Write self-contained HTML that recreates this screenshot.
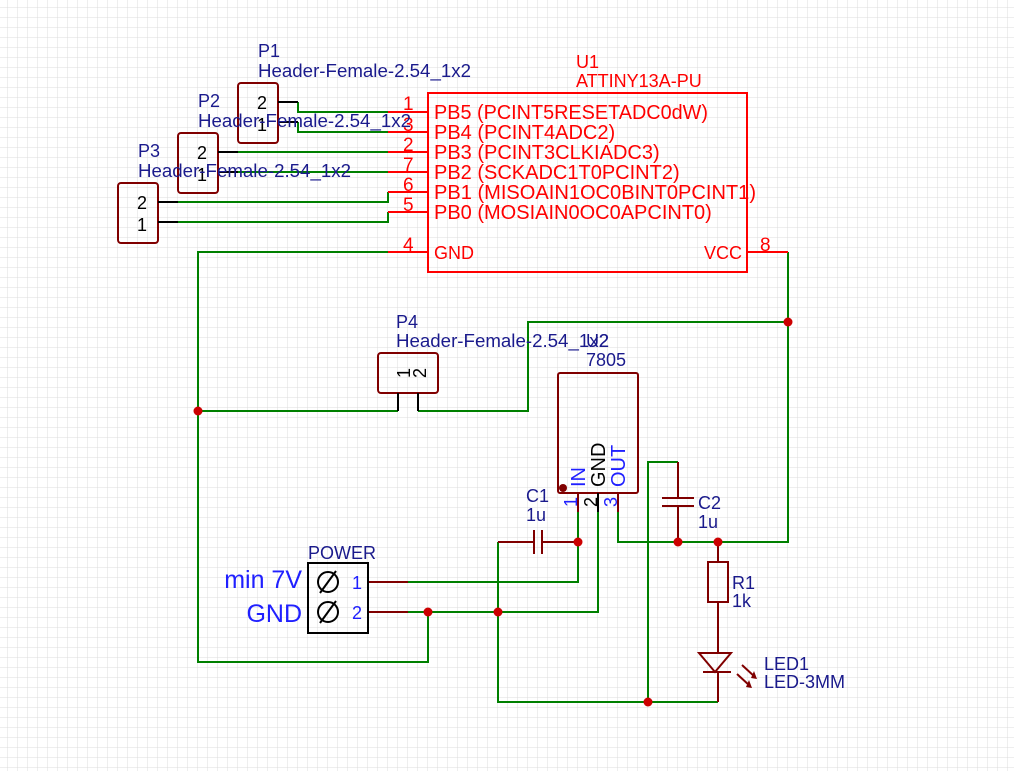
<!DOCTYPE html>
<html><head><meta charset="utf-8"><style>
html,body{margin:0;padding:0;background:#fff}
svg{display:block}
text{font-family:"Liberation Sans",sans-serif}
</style></head><body>
<svg width="1014" height="771" viewBox="0 0 1014 771" xmlns="http://www.w3.org/2000/svg">
<defs>
<pattern id="g" width="10" height="10" patternUnits="userSpaceOnUse" x="-2" y="-2">
<path d="M10 0V10M0 10H10" fill="none" stroke="#dcdcdc" stroke-width="1"/>
</pattern>
</defs>
<rect width="1014" height="771" fill="url(#g)"/>

<g fill="none" stroke="#008000" stroke-width="2">
<path d="M298 102V112H388"/>
<path d="M298 122V132H388"/>
<path d="M238 152H388"/>
<path d="M238 172H388"/>
<path d="M178 202H388V192"/>
<path d="M178 222H388V212"/>
<path d="M388 252H198V662H428V612"/>
<path d="M198 411H398"/>
<path d="M418 411H528V322H788"/>
<path d="M788 252V542H618V512"/>
<path d="M408 582H578V542"/>
<path d="M578 542V512"/>
<path d="M408 612H598V512"/>
<path d="M498 542V702H718"/>
<path d="M648 702V462H678"/>
<path d="M678 542H718"/>
</g>

<g stroke="#ff0000" stroke-width="2" fill="none">
<rect x="428" y="93" width="319" height="179"/>
<path d="M388 112H428M388 132H428M388 152H428M388 172H428M388 192H428M388 212H428M388 252H428M747 252H788"/>
</g>
<g fill="#ff0000" font-size="20">
<text x="576" y="68" font-size="18">U1</text>
<text x="576" y="87" font-size="18">ATTINY13A-PU</text>
<text x="434" y="119" textLength="274" lengthAdjust="spacingAndGlyphs">PB5 (PCINT5RESETADC0dW)</text>
<text x="434" y="139">PB4 (PCINT4ADC2)</text>
<text x="434" y="159">PB3 (PCINT3CLKIADC3)</text>
<text x="434" y="179">PB2 (SCKADC1T0PCINT2)</text>
<text x="434" y="199" textLength="322" lengthAdjust="spacingAndGlyphs">PB1 (MISOAIN1OC0BINT0PCINT1)</text>
<text x="434" y="219">PB0 (MOSIAIN0OC0APCINT0)</text>
<text x="434" y="259" font-size="18">GND</text>
<text x="742" y="259" text-anchor="end" font-size="18">VCC</text>
<g font-size="19">
<text x="403" y="110">1</text>
<text x="403" y="131">3</text>
<text x="403" y="151">2</text>
<text x="403" y="171">7</text>
<text x="403" y="191">6</text>
<text x="403" y="211">5</text>
<text x="403" y="251">4</text>
<text x="760" y="251">8</text>
</g>
</g>

<g stroke="#800000" stroke-width="2" fill="none">
<rect x="238" y="83" width="40" height="60" rx="3"/>
<rect x="178" y="133" width="40" height="60" rx="3"/>
<rect x="118" y="183" width="40" height="60" rx="3"/>
<rect x="378" y="353" width="60" height="40" rx="3"/>
</g>
<g stroke="#000" stroke-width="2">
<path d="M278 102H298M278 122H298M218 152H238M218 172H238M158 202H178M158 222H178M398 393V411M418 393V411"/>
</g>
<g fill="#000" font-size="18" text-anchor="middle">
<text x="262" y="109">2</text><text x="262" y="131">1</text>
<text x="202" y="159">2</text><text x="202" y="181">1</text>
<text x="142" y="209">2</text><text x="142" y="231">1</text>
<text transform="translate(404,373) rotate(-90)" y="6">1</text>
<text transform="translate(420,373) rotate(-90)" y="6">2</text>
</g>
<g fill="#1a1a8c" font-size="18">
<text x="258" y="57">P1</text>
<text x="258" y="77" textLength="213" lengthAdjust="spacingAndGlyphs">Header-Female-2.54_1x2</text>
<text x="198" y="107">P2</text>
<text x="198" y="127" textLength="213" lengthAdjust="spacingAndGlyphs">Header-Female-2.54_1x2</text>
<text x="138" y="157">P3</text>
<text x="138" y="177" textLength="213" lengthAdjust="spacingAndGlyphs">Header-Female-2.54_1x2</text>
<text x="396" y="328">P4</text>
<text x="396" y="347" textLength="213" lengthAdjust="spacingAndGlyphs">Header-Female-2.54_1x2</text>
<text x="586" y="347">U2</text>
<text x="586" y="366">7805</text>
<text x="526" y="502">C1</text>
<text x="526" y="521">1u</text>
<text x="698" y="509">C2</text>
<text x="698" y="528">1u</text>
<text x="732" y="589">R1</text>
<text x="732" y="607">1k</text>
<text x="764" y="670">LED1</text>
<text x="764" y="688">LED-3MM</text>
<text x="308" y="559">POWER</text>
</g>

<rect x="558" y="373" width="80" height="120" rx="2" fill="none" stroke="#800000" stroke-width="2"/>
<circle cx="563" cy="488" r="4" fill="#800000"/>
<path d="M578 493V512M618 493V512" stroke="#800000" stroke-width="2"/>
<path d="M598 493V512" stroke="#000" stroke-width="2"/>
<g font-size="20">
<text transform="translate(585,487) rotate(-90)" fill="#2020ff">IN</text>
<text transform="translate(605,487) rotate(-90)" fill="#000">GND</text>
<text transform="translate(625,487) rotate(-90)" fill="#2020ff">OUT</text>
<text transform="translate(577,507) rotate(-90)" fill="#2020ff" font-size="18">1</text>
<text transform="translate(597,507) rotate(-90)" fill="#000" font-size="18">2</text>
<text transform="translate(617,507) rotate(-90)" fill="#2020ff" font-size="18">3</text>
</g>

<g stroke="#800000" stroke-width="2" fill="none">
<path d="M498 542H534M534 530V554M542 530V554M542 542H578"/>
<path d="M678 462V498M662 498H694M662 506H694M678 506V542"/>
<path d="M718 542V562M718 602V652"/>
<rect x="708" y="562" width="20" height="40"/>
<path d="M699 653H731L715 672Z"/>
<path d="M703 672H731M718 672V702"/>
<path d="M742 665L755 677M737 674L750 686"/>
<path d="M368 582H408M368 612H408"/>
</g>
<path d="M751 678l3-7 3 8zM746 687l3-7 3 8z" fill="#800000"/>

<rect x="308" y="563" width="60" height="70" fill="none" stroke="#000" stroke-width="2"/>
<g stroke="#000" stroke-width="2" fill="none">
<circle cx="328" cy="582" r="10"/><path d="M320 593L336 571"/>
<circle cx="328" cy="612" r="10"/><path d="M320 623L336 601"/>
</g>
<g fill="#2020ff" font-size="18">
<text x="352" y="589">1</text><text x="352" y="619">2</text>
</g>
<g fill="#2020ff" font-size="25" text-anchor="end">
<text x="302" y="588">min 7V</text>
<text x="302" y="622">GND</text>
</g>

<g fill="#cc0000">
<circle cx="198" cy="411" r="4.5"/>
<circle cx="788" cy="322" r="4.5"/>
<circle cx="578" cy="542" r="4.5"/>
<circle cx="678" cy="542" r="4.5"/>
<circle cx="718" cy="542" r="4.5"/>
<circle cx="428" cy="612" r="4.5"/>
<circle cx="498" cy="612" r="4.5"/>
<circle cx="648" cy="702" r="4.5"/>
</g>
</svg>
</body></html>
